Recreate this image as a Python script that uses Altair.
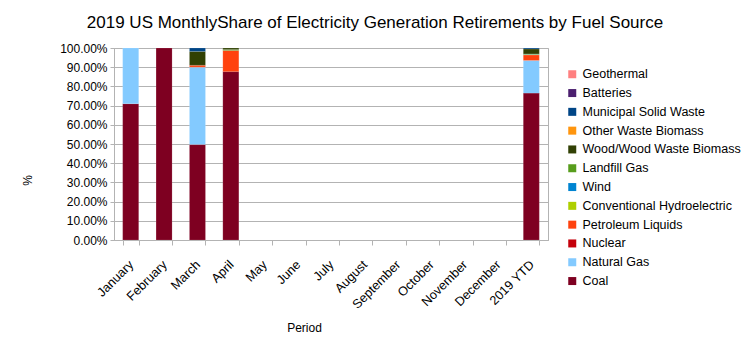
import altair as alt
import pandas as pd

periods = ["January", "February", "March", "April", "May", "June", "July",
           "August", "September", "October", "November", "December", "2019 YTD"]

# stacking order bottom -> top
fuels = ["Coal", "Natural Gas", "Nuclear", "Petroleum Liquids", "Conventional Hydroelectric",
         "Wind", "Landfill Gas", "Wood/Wood Waste Biomass", "Other Waste Biomass",
         "Municipal Solid Waste", "Batteries", "Geothermal"]
colors = ["#7E0021", "#83CAFF", "#C5000B", "#FF420E", "#AECF00", "#0084D1",
          "#579D1C", "#314004", "#FF950E", "#004586", "#4B1F6F", "#FF8080"]

# shares (%) per period: Jan, Feb, Mar, Apr, YTD (May-Dec have no data)
coal        = [71.0, 100.0, 49.7, 87.7, 76.5]
natural_gas = [29.0, 0.0, 40.3, 0.0, 17.0]
petroleum   = [0.0, 0.0, 1.0, 11.0, 2.9]
wind        = [0.0, 0.0, 0.0, 0.0, 0.2]
landfill    = [0.0, 0.0, 0.0, 0.5, 0.3]
wood        = [0.0, 0.0, 7.2, 0.8, 2.6]
msw         = [0.0, 0.0, 1.8, 0.0, 0.5]
data_periods = ["January", "February", "March", "April", "2019 YTD"]

series = {
    "Coal": coal,
    "Natural Gas": natural_gas,
    "Petroleum Liquids": petroleum,
    "Wind": wind,
    "Landfill Gas": landfill,
    "Wood/Wood Waste Biomass": wood,
    "Municipal Solid Waste": msw,
}

rows = []
for fuel, vals in series.items():
    for p, v in zip(data_periods, vals):
        if v > 0:
            rows.append({"Period": p, "Fuel": fuel, "Share": v / 100.0,
                         "idx": fuels.index(fuel)})
df = pd.DataFrame(rows)

FONT = "Liberation Sans"
legend_order = list(reversed(fuels))
legend_colors = list(reversed(colors))

chart = alt.Chart(df).mark_bar(stroke="#ffffff", strokeOpacity=0.25, strokeWidth=0.5).encode(
    x=alt.X("Period:N", sort=periods,
            scale=alt.Scale(domain=periods, paddingInner=0.52, paddingOuter=0.26),
            axis=alt.Axis(title="Period", labelAngle=-45, labelFontSize=12.7,
                          labelFont=FONT, labelColor="#000000", titleFont=FONT,
                          titleFontSize=12, titleFontWeight="normal", titleColor="#000000",
                          tickBand="extent", domainColor="#b3b3b3", tickColor="#b3b3b3",
                          tickSize=5, labelPadding=13, labelOffset=-4, titleX=190, titleY=87,
                          titleBaseline="middle")),
    y=alt.Y("Share:Q", stack="zero",
            scale=alt.Scale(domain=[0, 1], nice=False),
            axis=alt.Axis(title="%", format=".2%", values=[i / 10 for i in range(11)],
                          labelFontSize=12, labelFont=FONT, labelColor="#000000",
                          titleFont=FONT, titleFontSize=12, titleFontWeight="normal",
                          titleColor="#000000", gridColor="#b3b3b3", domainColor="#b3b3b3",
                          tickColor="#b3b3b3", tickSize=4, labelPadding=3,
                          titleX=-87, titleY=132, titleBaseline="middle")),
    color=alt.Color("Fuel:N",
                    scale=alt.Scale(domain=legend_order, range=legend_colors),
                    legend=alt.Legend(title=None, orient="none", legendX=452, legendY=20,
                                      symbolType="square", symbolSize=64,
                                      symbolStrokeWidth=0, labelFont=FONT,
                                      labelFontSize=12.5, labelColor="#000000",
                                      rowPadding=5.8, labelOffset=4, values=legend_order)),
    order=alt.Order("idx:Q", sort="ascending"),
).properties(
    width=434, height=192,
    title=alt.TitleParams("2019 US MonthlyShare of Electricity Generation Retirements by Fuel Source",
                          font=FONT, fontSize=17, fontWeight="normal", color="#000000",
                          anchor="middle", dx=44, offset=10),
    autosize=alt.AutoSizeParams(type="none"),
    padding={"left": 114, "top": 48, "right": 206, "bottom": 117},
).configure_view(stroke="#b3b3b3").configure_axis(grid=True).configure_axisX(grid=False)

chart.save("out.html", embed_options={"renderer": "svg", "actions": False})
